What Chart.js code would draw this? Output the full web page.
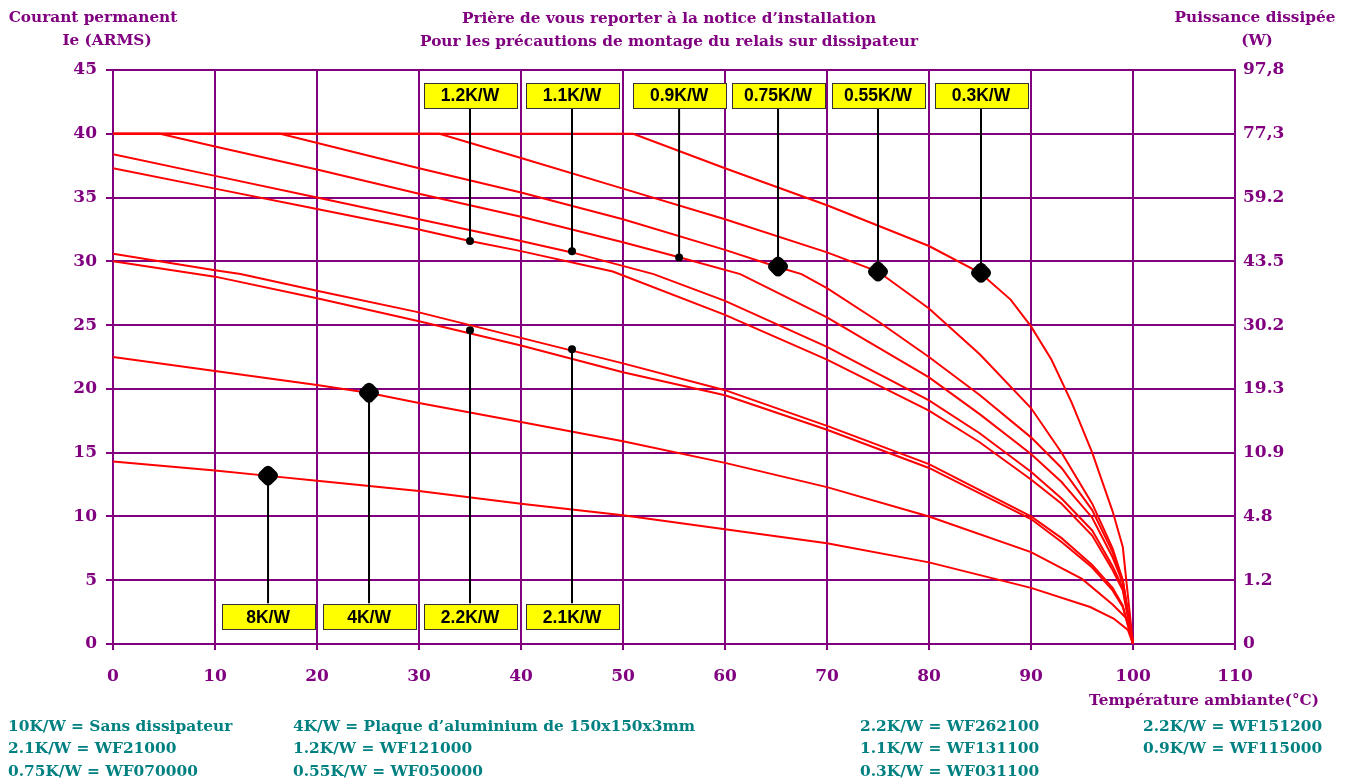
<!DOCTYPE html>
<html><head><meta charset="utf-8">
<script src="https://cdn.jsdelivr.net/npm/chart.js@4.4.1/dist/chart.umd.min.js"></script>
<style>html,body{margin:0;padding:0;background:#fff;overflow:hidden}</style>
</head><body>
<canvas id="c" width="1351" height="784"></canvas>
<script>
// ---- data ----
const temps03  = [0,51,60,70,80,85,88,90,92,94,96,98,99,100];
const amps03   = [40,40,37.3,34.4,31.2,29.1,27.0,24.9,22.3,18.9,15.0,10.4,7.6,0];
const temps055 = [0,32,40,50,60,70,75,80,85,90,93,96,98,99,100];
const amps055  = [40,40,38.1,35.7,33.3,30.7,29.2,26.3,22.7,18.5,15.0,11.0,7.5,5.0,0];
const temps075 = [0,16.4,30,40,50,60,65,67.5,70,75,80,85,90,93,96,98,99,100];
const amps075  = [40,40,37.3,35.4,33.3,30.9,29.6,29.0,27.9,25.3,22.5,19.5,16.2,13.8,10.5,7.2,5.0,0];
const temps09  = [0,4.6,10,20,30,40,50,55.6,61.5,70,80,85,90,93,96,98,99,100];
const amps09   = [40,40,39.0,37.2,35.3,33.5,31.5,30.3,29.0,25.6,20.9,18.0,14.9,12.7,9.9,6.8,4.8,0];
const temps11  = [0,10,20,30,40,45,53,60,70,80,85,90,93,96,98,99,100];
const amps11   = [38.4,36.7,35.0,33.3,31.6,30.7,29.0,26.9,23.3,19.1,16.5,13.5,11.4,8.9,6.1,4.4,0];
const temps12  = [0,10,20,30,35,40,49,60,70,80,85,90,93,96,98,99,100];
const amps12   = [37.3,35.7,34.1,32.5,31.6,30.8,29.2,25.8,22.3,18.3,15.8,12.9,11.0,8.5,5.8,4.2,0];
const temps21  = [0,10,12.5,20,30,40,50,60,70,80,90,93,96,98,99,100];
const amps21   = [30.6,29.3,29.0,27.7,26.0,24.0,22.0,19.9,17.1,14.1,10.0,8.3,6.2,4.4,3.0,0];
const temps22  = [0,10,20,30,40,50,60,70,80,90,93,96,98,99,100];
const amps22   = [30.0,28.8,27.1,25.3,23.4,21.3,19.5,16.8,13.8,9.8,8.0,6.0,4.2,2.9,0];
const temps4   = [0,10,20,25,30,40,50,60,70,80,90,95,98,99.5,100];
const amps4    = [22.5,21.4,20.3,19.7,18.9,17.4,15.9,14.2,12.3,10.0,7.2,5.1,3.1,1.9,0];
const temps8   = [0,10,15,20,30,40,50,60,70,80,90,95.8,98.1,99.5,100];
const amps8    = [14.3,13.6,13.2,12.8,12.0,11.0,10.1,9.0,7.9,6.4,4.4,2.9,2.0,1.1,0];

const curveNames = ['0.3K/W','0.55K/W','0.75K/W','0.9K/W','1.1K/W','1.2K/W','2.1K/W','2.2K/W','4K/W','8K/W'];
const curveTemps = [temps03,temps055,temps075,temps09,temps11,temps12,temps21,temps22,temps4,temps8];
const curveAmps  = [amps03,amps055,amps075,amps09,amps11,amps12,amps21,amps22,amps4,amps8];

const xTickValues = [0,10,20,30,40,50,60,70,80,90,100,110];
const leftTickValues = [0,5,10,15,20,25,30,35,40,45];
const rightTickLabels = ['0','1.2','4.8','10.9','19.3','30.2','43.5','59.2','77,3','97,8'];

const markerLabels = ['1.2K/W','1.1K/W','0.9K/W','0.75K/W','0.55K/W','0.3K/W','8K/W','4K/W','2.2K/W','2.1K/W'];
const markerTemps  = [35,45,55.5,65.2,75,85.1,15.2,25.1,35,45];
const markerAmps   = [31.6,30.8,30.3,29.6,29.2,29.1,13.2,19.7,24.6,23.1];
const markerAtTop  = [true,true,true,true,true,true,false,false,false,false];
const markerBig    = [false,false,false,true,true,true,true,true,false,false];
const boxLevelTop = 43.0, boxLevelBottom = 2.12;
const stemEndTop = 42.0, stemEndBottom = 3.2;

const titleLeft = ['Courant permanent','Ie (ARMS)'];
const titleCenter = ['Prière de vous reporter à la notice d’installation','Pour les précautions de montage du relais sur dissipateur'];
const titleRight = ['Puissance dissipée','(W)'];
const xTitle = 'Température ambiante(°C)';
const notesCol1 = ['10K/W = Sans dissipateur','2.1K/W = WF21000','0.75K/W = WF070000'];
const notesCol2 = ['4K/W = Plaque d’aluminium de 150x150x3mm','1.2K/W = WF121000','0.55K/W = WF050000'];
const notesCol3 = ['2.2K/W = WF262100','1.1K/W = WF131100','0.3K/W = WF031100'];
const notesCol4 = ['2.2K/W = WF151200','0.9K/W = WF115000'];

// ---- styles ----
const PURPLE = '#800080', RED = '#ff0000', TEAL = '#008080';
const serif = "'DejaVu Serif', serif";

const datasets = [];
// dots on top
datasets.push({
  type:'scatter', label:'markers', order:0,
  data: markerTemps.map((t,i)=>({x:t,y:markerAmps[i]})),
  pointRadius: markerBig.map(b=>b?10:4),
  pointStyle: markerBig.map(b=>b?'rectRounded':'circle'),
  rotation: markerBig.map(b=>b?45:0),
  pointBackgroundColor:'#000', pointBorderColor:'#000', pointBorderWidth:0,
  showLine:false
});
// stems
markerTemps.forEach((t,i)=>{
  datasets.push({
    type:'line', label:'stem'+i, order:1,
    data:[{x:t,y:markerAmps[i]},{x:t,y:markerAtTop[i]?stemEndTop:stemEndBottom}],
    borderColor:'#000', borderWidth:2, pointRadius:0, tension:0
  });
});
// curves
curveNames.forEach((n,k)=>{
  datasets.push({
    type:'line', label:n, order:2,
    data: curveTemps[k].map((t,i)=>({x:t,y:curveAmps[k][i]})),
    borderColor:RED, borderWidth:2, pointRadius:0, tension:0, fill:false
  });
});

const overlay = {
  id:'overlay',
  afterDatasetsDraw(chart){
    const ctx = chart.ctx, xs = chart.scales.x, ys = chart.scales.y;
    ctx.save();
    markerLabels.forEach((lab,i)=>{
      const cx = xs.getPixelForValue(markerTemps[i]);
      const cy = ys.getPixelForValue(markerAtTop[i]?boxLevelTop:boxLevelBottom);
      const w = 93, h = 25;
      ctx.fillStyle = '#ffff00';
      ctx.fillRect(Math.round(cx-w/2), Math.round(cy-h/2), w, h);
      ctx.strokeStyle = '#333'; ctx.lineWidth = 1;
      ctx.strokeRect(Math.round(cx-w/2)+0.5, Math.round(cy-h/2)+0.5, w, h);
      ctx.fillStyle = '#000';
      ctx.font = "bold 17.5px 'Liberation Sans', Arial, sans-serif";
      ctx.textAlign = 'center'; ctx.textBaseline = 'middle';
      ctx.fillText(lab, cx, cy+1);
    });
    ctx.restore();
  },
  afterDraw(chart){
    const ctx = chart.ctx;
    ctx.save();
    ctx.textBaseline = 'middle';
    ctx.fillStyle = PURPLE;
    ctx.font = "bold 15.3px " + serif;
    ctx.textAlign = 'center';
    ctx.fillText(titleLeft[0], 93, 18);
    ctx.fillText(titleLeft[1], 107, 41);
    ctx.fillText(titleCenter[0], 669, 19);
    ctx.fillText(titleCenter[1], 669, 42);
    ctx.fillText(titleRight[0], 1255, 18);
    ctx.fillText(titleRight[1], 1257, 41);
    ctx.textAlign = 'right';
    ctx.fillText(xTitle, 1319, 701);
    ctx.fillStyle = TEAL;
    ctx.textAlign = 'left';
    ctx.font = "bold 15.4px " + serif;
    const rows = [727,749,772];
    [[notesCol1,8],[notesCol2,293],[notesCol3,860],[notesCol4,1143]].forEach(([col,x])=>{
      col.forEach((s,r)=>ctx.fillText(s, x, rows[r]));
    });
    ctx.restore();
  }
};

new Chart(document.getElementById('c'), {
  data:{datasets},
  options:{
    responsive:false, animation:false, devicePixelRatio:1,
    layout:{padding:{top:70,left:0,right:0,bottom:0}},
    plugins:{legend:{display:false}, tooltip:{enabled:false}},
    scales:{
      x:{
        type:'linear', min:0, max:110,
        afterBuildTicks(s){ s.ticks = xTickValues.map(v=>({value:v})); },
        afterFit(s){ s.height = 140; },
        grid:{color:PURPLE, lineWidth:2, tickLength:6, drawTicks:true},
        border:{color:PURPLE, width:2},
        ticks:{color:PURPLE, font:{family:serif, weight:'bold', size:17}, padding:16, maxRotation:0, autoSkip:false}
      },
      y:{
        type:'linear', position:'left', min:0, max:45,
        afterBuildTicks(s){ s.ticks = leftTickValues.map(v=>({value:v})); },
        afterFit(s){ s.width = 113; },
        grid:{color:PURPLE, lineWidth:2, tickLength:7, drawTicks:true},
        border:{color:PURPLE, width:2},
        ticks:{color:PURPLE, font:{family:serif, weight:'bold', size:17}, padding:9, autoSkip:false}
      },
      y2:{
        type:'linear', position:'right', min:0, max:45,
        afterBuildTicks(s){ s.ticks = leftTickValues.map(v=>({value:v})); },
        afterFit(s){ s.width = 116; },
        grid:{drawOnChartArea:false, drawTicks:false},
        border:{color:PURPLE, width:2},
        ticks:{color:PURPLE, font:{family:serif, weight:'bold', size:17}, padding:8, autoSkip:false,
          callback:(v,i)=>rightTickLabels[i]}
      }
    }
  },
  plugins:[overlay]
});
</script>
</body></html>
